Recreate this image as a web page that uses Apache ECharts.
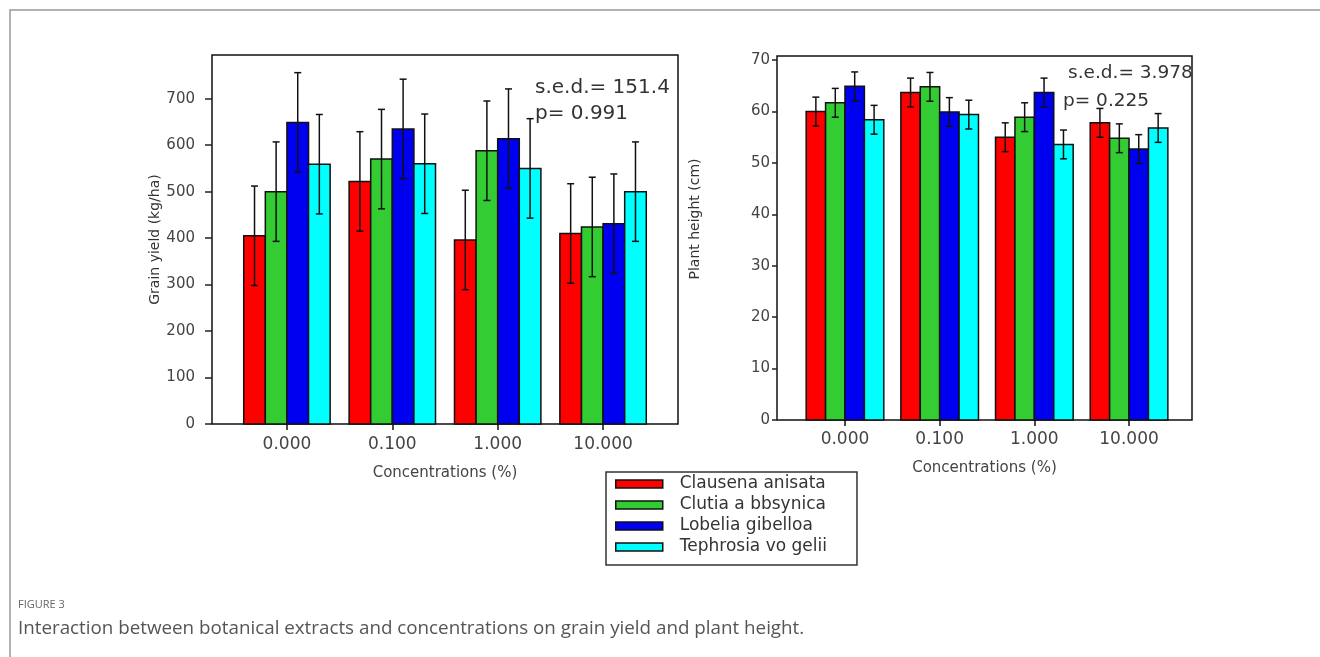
<!DOCTYPE html>
<html><head><meta charset="utf-8">
<script src="https://cdn.jsdelivr.net/npm/echarts@6/dist/echarts.min.js"></script>
<style>html,body{margin:0;padding:0;background:#fff}#c{width:1320px;height:657px}</style>
</head><body><div id="c"></div>
<script>
// ---------- data ----------
const categories = ['0.000', '0.100', '1.000', '10.000'];
const species = ['Clausena anisata', 'Clutia a bbsynica', 'Lobelia gibelloa', 'Tephrosia vo gelii'];
const colors = ['#ff0000', '#33cc33', '#0000f0', '#00ffff'];

const yieldClausena  = [405, 522, 396, 410];
const yieldClutia    = [500, 570, 588, 424];
const yieldLobelia   = [649, 635, 614, 431];
const yieldTephrosia = [559, 560, 550, 500];
const yieldErr = [107, 107, 107, 107];

const heightClausena  = [60.0, 63.7, 55.0, 57.8];
const heightClutia    = [61.7, 64.8, 58.9, 54.8];
const heightLobelia   = [64.9, 59.9, 63.7, 52.7];
const heightTephrosia = [58.4, 59.4, 53.6, 56.8];
const heightErr = [2.8, 2.8, 2.8, 2.8];

const yieldTicks  = [0, 100, 200, 300, 400, 500, 600, 700];
const heightTicks = [0, 10, 20, 30, 40, 50, 60, 70];
const catTicks = [0, 1, 2, 3];

const yieldNote  = ['s.e.d.= 151.4', 'p= 0.991'];
const heightNote = ['s.e.d.= 3.978', 'p= 0.225'];
const captionLabel = 'FIGURE 3';
const captionText = 'Interaction between botanical extracts and concentrations on grain yield and plant height.';

// ---------- chart ----------
const FONT = 'DejaVu Sans';
const BW = 0.205; // bar width in category units

function makeRender(slot) {
  return function (params, api) {
    const cat = api.value(0), v = api.value(1), e = api.value(2);
    const x0 = cat + (slot - 2) * BW, x1 = cat + (slot - 1) * BW, xc = (x0 + x1) / 2;
    const p0 = api.coord([x0, v]);
    const p1 = api.coord([x1, 0]);
    const top = api.coord([xc, v + e]);
    const bot = api.coord([xc, v - e]);
    const ls = { stroke: '#111', lineWidth: 1.5 };
    return {
      type: 'group',
      children: [
        { type: 'rect', shape: { x: p0[0], y: p0[1], width: p1[0] - p0[0], height: p1[1] - p0[1] },
          style: { fill: api.visual('color'), stroke: '#111', lineWidth: 1.5 } },
        { type: 'line', shape: { x1: top[0], y1: top[1], x2: bot[0], y2: bot[1] }, style: ls },
        { type: 'line', shape: { x1: top[0] - 3.5, y1: top[1], x2: top[0] + 3.5, y2: top[1] }, style: ls },
        { type: 'line', shape: { x1: bot[0] - 3.5, y1: bot[1], x2: bot[0] + 3.5, y2: bot[1] }, style: ls }
      ]
    };
  };
}

const yieldSets = [yieldClausena, yieldClutia, yieldLobelia, yieldTephrosia];
const heightSets = [heightClausena, heightClutia, heightLobelia, heightTephrosia];

const series = [];
yieldSets.forEach((vals, s) => {
  series.push({
    type: 'custom', name: species[s], xAxisIndex: 0, yAxisIndex: 0,
    itemStyle: { color: colors[s], borderColor: '#111', borderWidth: 1.5 },
    renderItem: makeRender(s),
    encode: { x: 0, y: 1 },
    data: vals.map((v, i) => [i, v, yieldErr[i]])
  });
});
heightSets.forEach((vals, s) => {
  series.push({
    type: 'custom', name: species[s], xAxisIndex: 1, yAxisIndex: 1,
    itemStyle: { color: colors[s], borderColor: '#111', borderWidth: 1.5 },
    renderItem: makeRender(s),
    encode: { x: 0, y: 1 },
    data: vals.map((v, i) => [i, v, heightErr[i]])
  });
});

function xAxisCfg(gi, min, max, margin, gap) {
  return {
    gridIndex: gi, type: 'value', min: min, max: max,
    splitLine: { show: false }, axisLine: { show: false, onZero: false },
    axisTick: { show: true, customValues: catTicks, length: 6, lineStyle: { color: '#111', width: 1.5 } },
    axisLabel: { customValues: catTicks, formatter: v => categories[Math.round(v)], margin: margin,
      fontSize: 17, color: '#444', fontFamily: FONT },
    name: 'Concentrations (%)', nameLocation: 'middle', nameGap: gap,
    nameTextStyle: { fontSize: 15, color: '#444', fontFamily: FONT }
  };
}

const noteStyle = { fontSize: 20, fontWeight: 'normal', color: '#333', fontFamily: FONT };
const noteStyleR = { fontSize: 18.5, fontWeight: 'normal', color: '#333', fontFamily: FONT };

const option = {
  animation: false,
  backgroundColor: '#fff',
  color: colors,
  graphic: [{ type: 'rect', silent: true, shape: { x: 10, y: 10, width: 1400, height: 800 },
    style: { fill: 'none', stroke: '#999', lineWidth: 1.5 } }],
  title: [
    { text: yieldNote[0], left: 535, top: 78, padding: 0, textStyle: noteStyle },
    { text: yieldNote[1], left: 535, top: 104, padding: 0, textStyle: noteStyle },
    { text: heightNote[0], left: 1068, top: 64, padding: 0, textStyle: noteStyleR },
    { text: heightNote[1], left: 1063, top: 92, padding: 0, textStyle: noteStyleR },
    { text: captionLabel, left: 18, top: 599, padding: 0, textStyle: { fontSize: 11, fontWeight: 'normal', color: '#666', fontFamily: 'Open Sans' } },
    { text: captionText, left: 18, top: 619, padding: 0, textStyle: { fontSize: 18.8, fontWeight: 'normal', color: '#555', fontFamily: 'Open Sans' } }
  ],
  legend: {
    orient: 'vertical', left: 606, top: 472, data: species, selectedMode: false,
    icon: 'rect', itemWidth: 47, itemHeight: 8, itemGap: 3,
    padding: [3, 30, 9, 9], borderColor: '#333', borderWidth: 1.5,
    itemStyle: { borderColor: '#111', borderWidth: 1.5 },
    textStyle: { fontFamily: FONT, fontSize: 17, color: '#333', lineHeight: 18, padding: [0, 0, 0, 12] }
  },
  grid: [
    { left: 212, top: 55, width: 466, height: 369, show: true, borderColor: '#111', borderWidth: 1.5, backgroundColor: 'transparent' },
    { left: 777, top: 56, width: 415, height: 364, show: true, borderColor: '#111', borderWidth: 1.5, backgroundColor: 'transparent' }
  ],
  xAxis: [xAxisCfg(0, -0.711, 3.711, 12, 42), xAxisCfg(1, -0.718, 3.665, 11, 41)],
  yAxis: [
    { gridIndex: 0, type: 'value', min: 0, max: 794,
      splitLine: { show: false }, axisLine: { show: false, onZero: false },
      axisTick: { show: true, customValues: yieldTicks, length: 7, lineStyle: { color: '#222', width: 1.5 } },
      axisLabel: { customValues: yieldTicks, margin: 17, fontSize: 15, color: '#444', fontFamily: FONT },
      name: 'Grain yield (kg/ha)', nameLocation: 'middle', nameGap: 45, nameRotate: 90,
      nameTextStyle: { fontSize: 14, color: '#333', fontFamily: FONT } },
    { gridIndex: 1, type: 'value', min: 0, max: 70.8,
      splitLine: { show: false }, axisLine: { show: false, onZero: false },
      axisTick: { show: true, customValues: heightTicks, length: 5, lineStyle: { color: '#222', width: 1.5 } },
      axisLabel: { customValues: heightTicks, margin: 7, fontSize: 15, color: '#444', fontFamily: FONT },
      name: 'Plant height (cm)', nameLocation: 'middle', nameGap: 75, nameRotate: 90,
      nameTextStyle: { fontSize: 14, color: '#333', fontFamily: FONT, padding: [0, 0, 0, 38] } }
  ],
  series: series
};

const chart = echarts.init(document.getElementById('c'), null, { renderer: 'canvas' });
chart.setOption(option);
</script>
</body></html>
